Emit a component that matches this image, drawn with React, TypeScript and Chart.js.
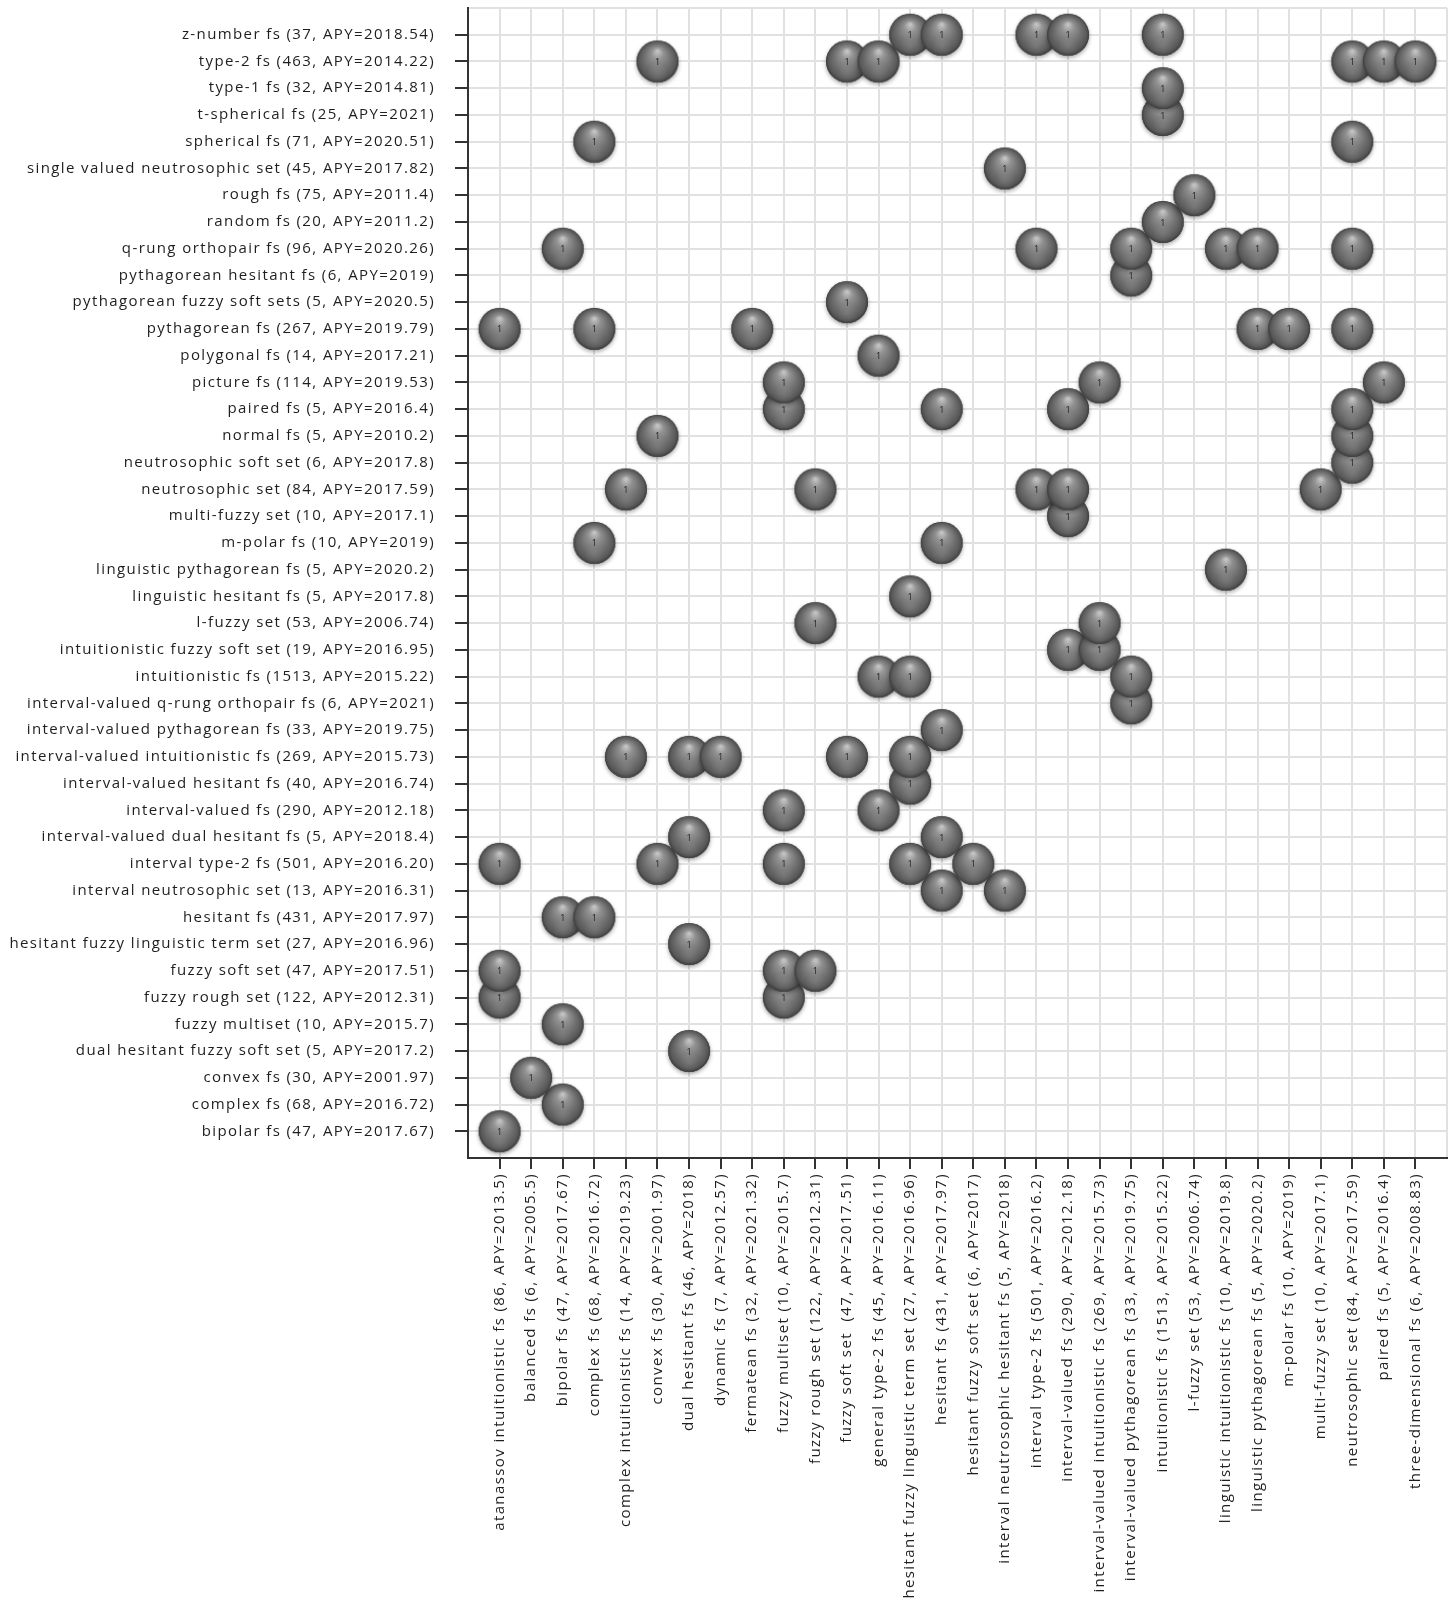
import { useEffect, useRef } from 'react';
import { Chart, registerables } from 'chart.js';

Chart.register(...registerables);

// Y categories, bottom (index 0) to top
const yCategories: string[] = [
  'bipolar fs (47, APY=2017.67)',
  'complex fs (68, APY=2016.72)',
  'convex fs (30, APY=2001.97)',
  'dual hesitant fuzzy soft set (5, APY=2017.2)',
  'fuzzy multiset (10, APY=2015.7)',
  'fuzzy rough set (122, APY=2012.31)',
  'fuzzy soft set (47, APY=2017.51)',
  'hesitant fuzzy linguistic term set (27, APY=2016.96)',
  'hesitant fs (431, APY=2017.97)',
  'interval neutrosophic set (13, APY=2016.31)',
  'interval type-2 fs (501, APY=2016.20)',
  'interval-valued dual hesitant fs (5, APY=2018.4)',
  'interval-valued fs (290, APY=2012.18)',
  'interval-valued hesitant fs (40, APY=2016.74)',
  'interval-valued intuitionistic fs (269, APY=2015.73)',
  'interval-valued pythagorean fs (33, APY=2019.75)',
  'interval-valued q-rung orthopair fs (6, APY=2021)',
  'intuitionistic fs (1513, APY=2015.22)',
  'intuitionistic fuzzy soft set (19, APY=2016.95)',
  'l-fuzzy set (53, APY=2006.74)',
  'linguistic hesitant fs (5, APY=2017.8)',
  'linguistic pythagorean fs (5, APY=2020.2)',
  'm-polar fs (10, APY=2019)',
  'multi-fuzzy set (10, APY=2017.1)',
  'neutrosophic set (84, APY=2017.59)',
  'neutrosophic soft set (6, APY=2017.8)',
  'normal fs (5, APY=2010.2)',
  'paired fs (5, APY=2016.4)',
  'picture fs (114, APY=2019.53)',
  'polygonal fs (14, APY=2017.21)',
  'pythagorean fs (267, APY=2019.79)',
  'pythagorean fuzzy soft sets (5, APY=2020.5)',
  'pythagorean hesitant fs (6, APY=2019)',
  'q-rung orthopair fs (96, APY=2020.26)',
  'random fs (20, APY=2011.2)',
  'rough fs (75, APY=2011.4)',
  'single valued neutrosophic set (45, APY=2017.82)',
  'spherical fs (71, APY=2020.51)',
  't-spherical fs (25, APY=2021)',
  'type-1 fs (32, APY=2014.81)',
  'type-2 fs (463, APY=2014.22)',
  'z-number fs (37, APY=2018.54)',
];

// X categories, left (index 0) to right
const xCategories: string[] = [
  'atanassov intuitionistic fs (86, APY=2013.5)',
  'balanced fs (6, APY=2005.5)',
  'bipolar fs (47, APY=2017.67)',
  'complex fs (68, APY=2016.72)',
  'complex intuitionistic fs (14, APY=2019.23)',
  'convex fs (30, APY=2001.97)',
  'dual hesitant fs (46, APY=2018)',
  'dynamic fs (7, APY=2012.57)',
  'fermatean fs (32, APY=2021.32)',
  'fuzzy multiset (10, APY=2015.7)',
  'fuzzy rough set (122, APY=2012.31)',
  'fuzzy soft set  (47, APY=2017.51)',
  'general type-2 fs (45, APY=2016.11)',
  'hesitant fuzzy linguistic term set (27, APY=2016.96)',
  'hesitant fs (431, APY=2017.97)',
  'hesitant fuzzy soft set (6, APY=2017)',
  'interval neutrosophic hesitant fs (5, APY=2018)',
  'interval type-2 fs (501, APY=2016.2)',
  'interval-valued fs (290, APY=2012.18)',
  'interval-valued intuitionistic fs (269, APY=2015.73)',
  'interval-valued pythagorean fs (33, APY=2019.75)',
  'intuitionistic fs (1513, APY=2015.22)',
  'l-fuzzy set (53, APY=2006.74)',
  'linguistic intuitionistic fs (10, APY=2019.8)',
  'linguistic pythagorean fs (5, APY=2020.2)',
  'm-polar fs (10, APY=2019)',
  'multi-fuzzy set (10, APY=2017.1)',
  'neutrosophic set (84, APY=2017.59)',
  'paired fs (5, APY=2016.4)',
  'three-dimensional fs (6, APY=2008.83)',
];

// Links: [y category index, x category index, count]
const links: [number, number, number][] = [
  [0, 0, 1],
  [1, 2, 1],
  [2, 1, 1],
  [3, 6, 1],
  [4, 2, 1],
  [5, 0, 1], [5, 9, 1],
  [6, 0, 1], [6, 9, 1], [6, 10, 1],
  [7, 6, 1],
  [8, 2, 1], [8, 3, 1],
  [9, 14, 1], [9, 16, 1],
  [10, 0, 1], [10, 5, 1], [10, 9, 1], [10, 13, 1], [10, 15, 1],
  [11, 6, 1], [11, 14, 1],
  [12, 9, 1], [12, 12, 1],
  [13, 13, 1],
  [14, 4, 1], [14, 6, 1], [14, 7, 1], [14, 11, 1], [14, 13, 1],
  [15, 14, 1],
  [16, 20, 1],
  [17, 12, 1], [17, 13, 1], [17, 20, 1],
  [18, 18, 1], [18, 19, 1],
  [19, 10, 1], [19, 19, 1],
  [20, 13, 1],
  [21, 23, 1],
  [22, 3, 1], [22, 14, 1],
  [23, 18, 1],
  [24, 4, 1], [24, 10, 1], [24, 17, 1], [24, 18, 1], [24, 26, 1],
  [25, 27, 1],
  [26, 5, 1], [26, 27, 1],
  [27, 9, 1], [27, 14, 1], [27, 18, 1], [27, 27, 1],
  [28, 9, 1], [28, 19, 1], [28, 28, 1],
  [29, 12, 1],
  [30, 0, 1], [30, 3, 1], [30, 8, 1], [30, 24, 1], [30, 25, 1], [30, 27, 1],
  [31, 11, 1],
  [32, 20, 1],
  [33, 2, 1], [33, 17, 1], [33, 20, 1], [33, 23, 1], [33, 24, 1], [33, 27, 1],
  [34, 21, 1],
  [35, 22, 1],
  [36, 16, 1],
  [37, 3, 1], [37, 27, 1],
  [38, 21, 1],
  [39, 21, 1],
  [40, 5, 1], [40, 11, 1], [40, 12, 1], [40, 27, 1], [40, 28, 1], [40, 29, 1],
  [41, 13, 1], [41, 14, 1], [41, 17, 1], [41, 18, 1], [41, 21, 1],
];

const FONT_FAMILY = '"Open Sans", "DejaVu Sans", sans-serif';
const LABEL_COLOR = '#1e1e1e';
const AXIS_COLOR = '#333333';
const GRID_COLOR = '#e1e1e1';
const LETTER_SPACING = '1.4px';

function makeSphere(r: number): HTMLCanvasElement {
  const pad = 5;
  const size = Math.round(r * 2 + pad * 2);
  const c = document.createElement('canvas');
  c.width = size;
  c.height = size;
  const g = c.getContext('2d')!;
  const cx = size / 2;
  const cy = size / 2;
  // soft drop shadow
  g.save();
  g.shadowColor = 'rgba(0,0,0,0.35)';
  g.shadowBlur = 4;
  g.shadowOffsetY = 2;
  g.beginPath();
  g.arc(cx, cy, r, 0, Math.PI * 2);
  g.fillStyle = '#4a4a4a';
  g.fill();
  g.restore();
  // body
  const grad = g.createRadialGradient(cx, cy - r * 0.5, r * 0.04, cx, cy, r);
  grad.addColorStop(0, '#c4c4c4');
  grad.addColorStop(0.25, '#939393');
  grad.addColorStop(0.6, '#717171');
  grad.addColorStop(0.88, '#585858');
  grad.addColorStop(1, '#3c3c3c');
  g.beginPath();
  g.arc(cx, cy, r, 0, Math.PI * 2);
  g.fillStyle = grad;
  g.fill();
  // faint lower reflection
  const rim = g.createRadialGradient(cx, cy + r * 0.55, 0, cx, cy + r * 0.55, r * 0.5);
  rim.addColorStop(0, 'rgba(255,255,255,0.10)');
  rim.addColorStop(1, 'rgba(255,255,255,0)');
  g.beginPath();
  g.arc(cx, cy, r, 0, Math.PI * 2);
  g.fillStyle = rim;
  g.fill();
  return c;
}

// Give axis text the wide letter spacing of the reference
const spacedText = {
  id: 'spacedText',
  beforeLayout(chart: any) {
    (chart.ctx as any).letterSpacing = LETTER_SPACING;
  },
  beforeDraw(chart: any) {
    (chart.ctx as any).letterSpacing = LETTER_SPACING;
  },
};

const valueLabels = {
  id: 'valueLabels',
  afterDatasetsDraw(chart: any) {
    const ctx = chart.ctx as CanvasRenderingContext2D;
    const meta = chart.getDatasetMeta(0);
    const data = chart.data.datasets[0].data as any[];
    ctx.save();
    (ctx as any).letterSpacing = '0px';
    ctx.font = `9px ${FONT_FAMILY}`;
    ctx.fillStyle = '#222222';
    ctx.textAlign = 'center';
    ctx.textBaseline = 'middle';
    meta.data.forEach((pt: any, i: number) => {
      ctx.fillText(String(data[i].v), pt.x, pt.y + 1);
    });
    ctx.restore();
  },
};

export default function App() {
  const canvasRef = useRef<HTMLCanvasElement | null>(null);

  useEffect(() => {
    document.body.style.margin = '0';
    const canvas = canvasRef.current;
    if (!canvas) return;
    const sphere = makeSphere(21);
    const points = links.map(([yi, xi, count]) => ({ x: xi, y: yi, v: count }));

    const inRange = (v: number, n: number) => v >= 0 && v < n;

    const chart = new Chart(canvas, {
      type: 'scatter',
      data: {
        datasets: [
          {
            data: points as any,
            pointStyle: sphere as any,
            pointRadius: 21,
            pointHoverRadius: 21,
            clip: false as any,
          },
        ],
      },
      options: {
        animation: false,
        responsive: false,
        devicePixelRatio: 1,
        events: [],
        layout: { autoPadding: false, padding: { top: 8, right: 6, left: 0, bottom: 0 } },
        plugins: {
          legend: { display: false },
          tooltip: { enabled: false },
        },
        scales: {
          x: {
            type: 'linear',
            position: 'bottom',
            min: -1,
            max: 30,
            afterFit: (s: any) => {
              s.height = 452;
              s.paddingLeft = 0;
              s.paddingRight = 0;
            },
            ticks: {
              stepSize: 1,
              autoSkip: false,
              minRotation: 90,
              maxRotation: 90,
              padding: 4,
              color: LABEL_COLOR,
              font: { family: FONT_FAMILY, size: 15 },
              callback: (v: any) => xCategories[v as number] ?? '',
            },
            grid: {
              color: GRID_COLOR,
              lineWidth: 2,
              drawTicks: true,
              tickLength: 11,
              tickWidth: 2,
              tickColor: (c: any) =>
                c.tick && inRange(c.tick.value, xCategories.length) ? AXIS_COLOR : 'rgba(0,0,0,0)',
            },
            border: { display: true, color: AXIS_COLOR, width: 2 },
          },
          y: {
            type: 'linear',
            position: 'left',
            min: -1,
            max: 42,
            afterFit: (s: any) => {
              s.width = 468;
              s.paddingTop = 0;
              s.paddingBottom = 0;
            },
            ticks: {
              stepSize: 1,
              autoSkip: false,
              padding: 20,
              color: LABEL_COLOR,
              font: { family: FONT_FAMILY, size: 15 },
              callback: (v: any) => yCategories[v as number] ?? '',
            },
            grid: {
              color: GRID_COLOR,
              lineWidth: 2,
              drawTicks: true,
              tickLength: 13,
              tickWidth: 2,
              tickColor: (c: any) =>
                c.tick && inRange(c.tick.value, yCategories.length) ? AXIS_COLOR : 'rgba(0,0,0,0)',
            },
            border: { display: true, color: AXIS_COLOR, width: 2 },
          },
        },
      },
      plugins: [spacedText, valueLabels],
    });

    return () => {
      chart.destroy();
    };
  }, []);

  return (
    <div style={{ width: 1453, height: 1610, position: 'relative', background: '#fff' }}>
      <canvas ref={canvasRef} width={1453} height={1610} style={{ display: 'block' }} />
    </div>
  );
}
